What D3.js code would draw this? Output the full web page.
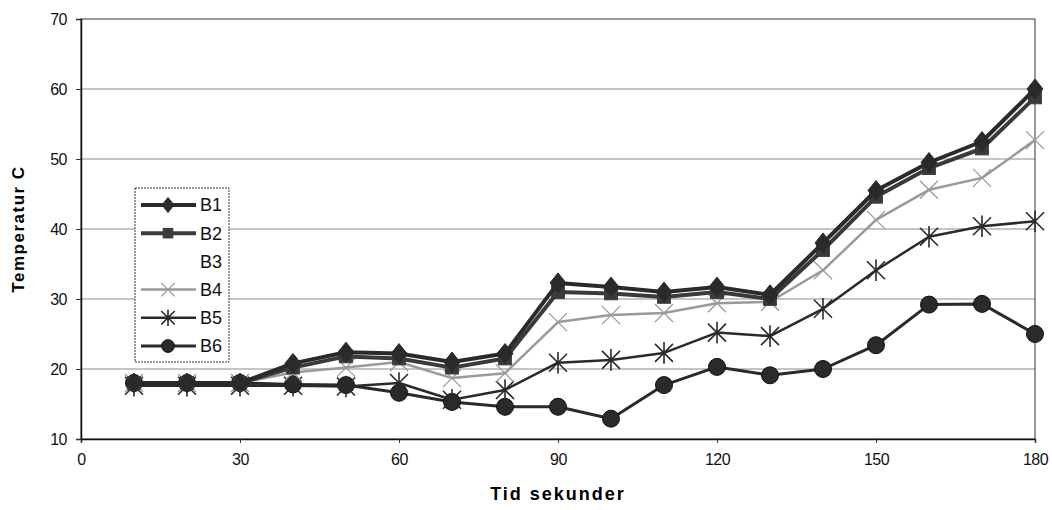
<!DOCTYPE html>
<html><head><meta charset="utf-8">
<script src="https://cdn.jsdelivr.net/npm/d3@7"></script>
<style>body{margin:0;background:#fff}svg text{font-family:"Liberation Sans",Arial,sans-serif}</style>
</head><body><svg id="c" width="1052" height="510"></svg>
<script>
const times = [10,20,30,40,50,60,70,80,90,100,110,120,130,140,150,160,170,180];
const B1 = [18,18,18,20.8,22.4,22.2,21.0,22.2,32.3,31.7,31.0,31.7,30.6,38.0,45.5,49.5,52.5,60.0];
const B2 = [18,18,18,20.2,21.8,21.5,20.2,21.5,31.0,30.8,30.3,31.0,30.0,37.0,44.6,48.7,51.5,58.8];
const B3 = [];
const B4 = [18,18,18,19.5,20.2,21.0,18.7,19.4,26.7,27.7,28.0,29.4,29.6,34.1,41.3,45.6,47.3,52.7];
const B5 = [17.6,17.6,17.6,17.6,17.5,18.0,15.6,17.0,20.9,21.3,22.3,25.2,24.7,28.6,34.1,38.9,40.4,41.1];
const B6 = [18,18,18,17.8,17.7,16.6,15.3,14.6,14.6,12.9,17.7,20.3,19.1,20.0,23.4,29.2,29.3,25.0];
const seriesNames = ["B1","B2","B3","B4","B5","B6"];
const xTicks = [0,30,60,90,120,150,180];
const yTicks = [10,20,30,40,50,60,70];
const xTitle = "Tid sekunder";
const yTitle = "Temperatur C";

const data = [B1,B2,B3,B4,B5,B6];
const style = {
  B1:{color:"#2a2a2a", w:4, marker:"diamond"},
  B2:{color:"#3a3a3a", w:4, marker:"square"},
  B3:{color:"none", w:0, marker:"none"},
  B4:{color:"#9a9a9a", w:2.5, marker:"x"},
  B5:{color:"#2a2a2a", w:2.5, marker:"asterisk"},
  B6:{color:"#2a2a2a", w:3, marker:"circle"}
};

const svg = d3.select("#c");
const L=81, R=1035, T=19, B=439;
const x = d3.scaleLinear().domain([0,180]).range([L,R]);
const y = d3.scaleLinear().domain([10,70]).range([B,T]);

svg.append("g").selectAll("line").data(yTicks.slice(1,-1)).join("line")
  .attr("x1",L).attr("x2",R).attr("y1",d=>y(d)).attr("y2",d=>y(d))
  .attr("stroke","#8a8a8a").attr("stroke-width",1);
svg.append("rect").attr("x",L).attr("y",T).attr("width",R-L).attr("height",B-T)
  .attr("fill","none").attr("stroke","#333").attr("stroke-width",1);

const xa = svg.append("g").attr("transform",`translate(0,${B})`)
  .call(d3.axisBottom(x).tickValues(xTicks).tickSize(4).tickPadding(11));
const ya = svg.append("g").attr("transform",`translate(${L},0)`)
  .call(d3.axisLeft(y).tickValues(yTicks).tickSize(5).tickPadding(9));
[xa,ya].forEach(a=>{a.select(".domain").attr("stroke","#111").attr("stroke-width",1.5);
  a.selectAll(".tick line").attr("stroke","#333");
  a.selectAll("text").attr("font-size",16).attr("fill","#111").attr("letter-spacing","-0.5px");});
ya.selectAll(".tick text").attr("dy","0.36em");

svg.append("text").attr("x",(L+R)/2).attr("y",500).attr("text-anchor","middle")
  .attr("font-size",18).attr("font-weight","bold").attr("letter-spacing","2px").text(xTitle);
svg.append("text").attr("transform",`translate(24,${(T+B)/2}) rotate(-90)`).attr("text-anchor","middle")
  .attr("font-size",17).attr("font-weight","bold").attr("letter-spacing","1.5px").text(yTitle);

function drawMarker(g, type, color, cx, cy, s){
  if(type==="diamond"){
    g.append("path").attr("d",`M${cx},${cy-s}L${cx+s*0.8},${cy}L${cx},${cy+s}L${cx-s*0.8},${cy}Z`).attr("fill",color).attr("stroke",color);
  } else if(type==="square"){
    g.append("rect").attr("x",cx-s*0.75).attr("y",cy-s*0.75).attr("width",s*1.5).attr("height",s*1.5).attr("fill",color).attr("stroke",color);
  } else if(type==="circle"){
    g.append("circle").attr("cx",cx).attr("cy",cy).attr("r",s*0.85).attr("fill",color).attr("stroke","#111");
  } else if(type==="x"){
    g.append("path").attr("d",`M${cx-s},${cy-s}L${cx+s},${cy+s}M${cx-s},${cy+s}L${cx+s},${cy-s}`).attr("stroke",color).attr("stroke-width",1.3);
  } else if(type==="asterisk"){
    g.append("path").attr("d",`M${cx-s},${cy-s}L${cx+s},${cy+s}M${cx-s},${cy+s}L${cx+s},${cy-s}M${cx},${cy-s*1.2}L${cx},${cy+s*1.2}`).attr("stroke",color).attr("stroke-width",1.6);
  }
}
const msize = {diamond:10,square:8.5,circle:10,x:9,asterisk:9,none:0};
const line = d3.line().x((d,i)=>x(times[i])).y(d=>y(d));

[5,4,3,2,1,0].forEach(k=>{
  const name = seriesNames[k], st = style[name], vals = data[k];
  if(!vals.length || st.color==="none") return;
  const g = svg.append("g");
  g.append("path").datum(vals).attr("d",line).attr("fill","none")
    .attr("stroke",st.color).attr("stroke-width",st.w).attr("stroke-linejoin","round");
  vals.forEach((v,i)=>drawMarker(g, st.marker, st.color, x(times[i]), y(v), msize[st.marker]));
});

const lg = svg.append("g");
lg.append("rect").attr("x",135).attr("y",188).attr("width",94).attr("height",174)
  .attr("fill","#fff").attr("stroke","#333").attr("stroke-dasharray","2,1").attr("stroke-width",1);
seriesNames.forEach((name,i)=>{
  const cy = 205 + i*28.2, st = style[name];
  if(st.color!=="none"){
    lg.append("line").attr("x1",141).attr("x2",196).attr("y1",cy).attr("y2",cy)
      .attr("stroke",st.color).attr("stroke-width",st.w);
    drawMarker(lg, st.marker, st.color, 168, cy, msize[st.marker]*0.75);
  }
  lg.append("text").attr("x",200).attr("y",cy).attr("dy","0.36em").attr("font-size",18).attr("fill","#111").text(name);
});
</script></body></html>
